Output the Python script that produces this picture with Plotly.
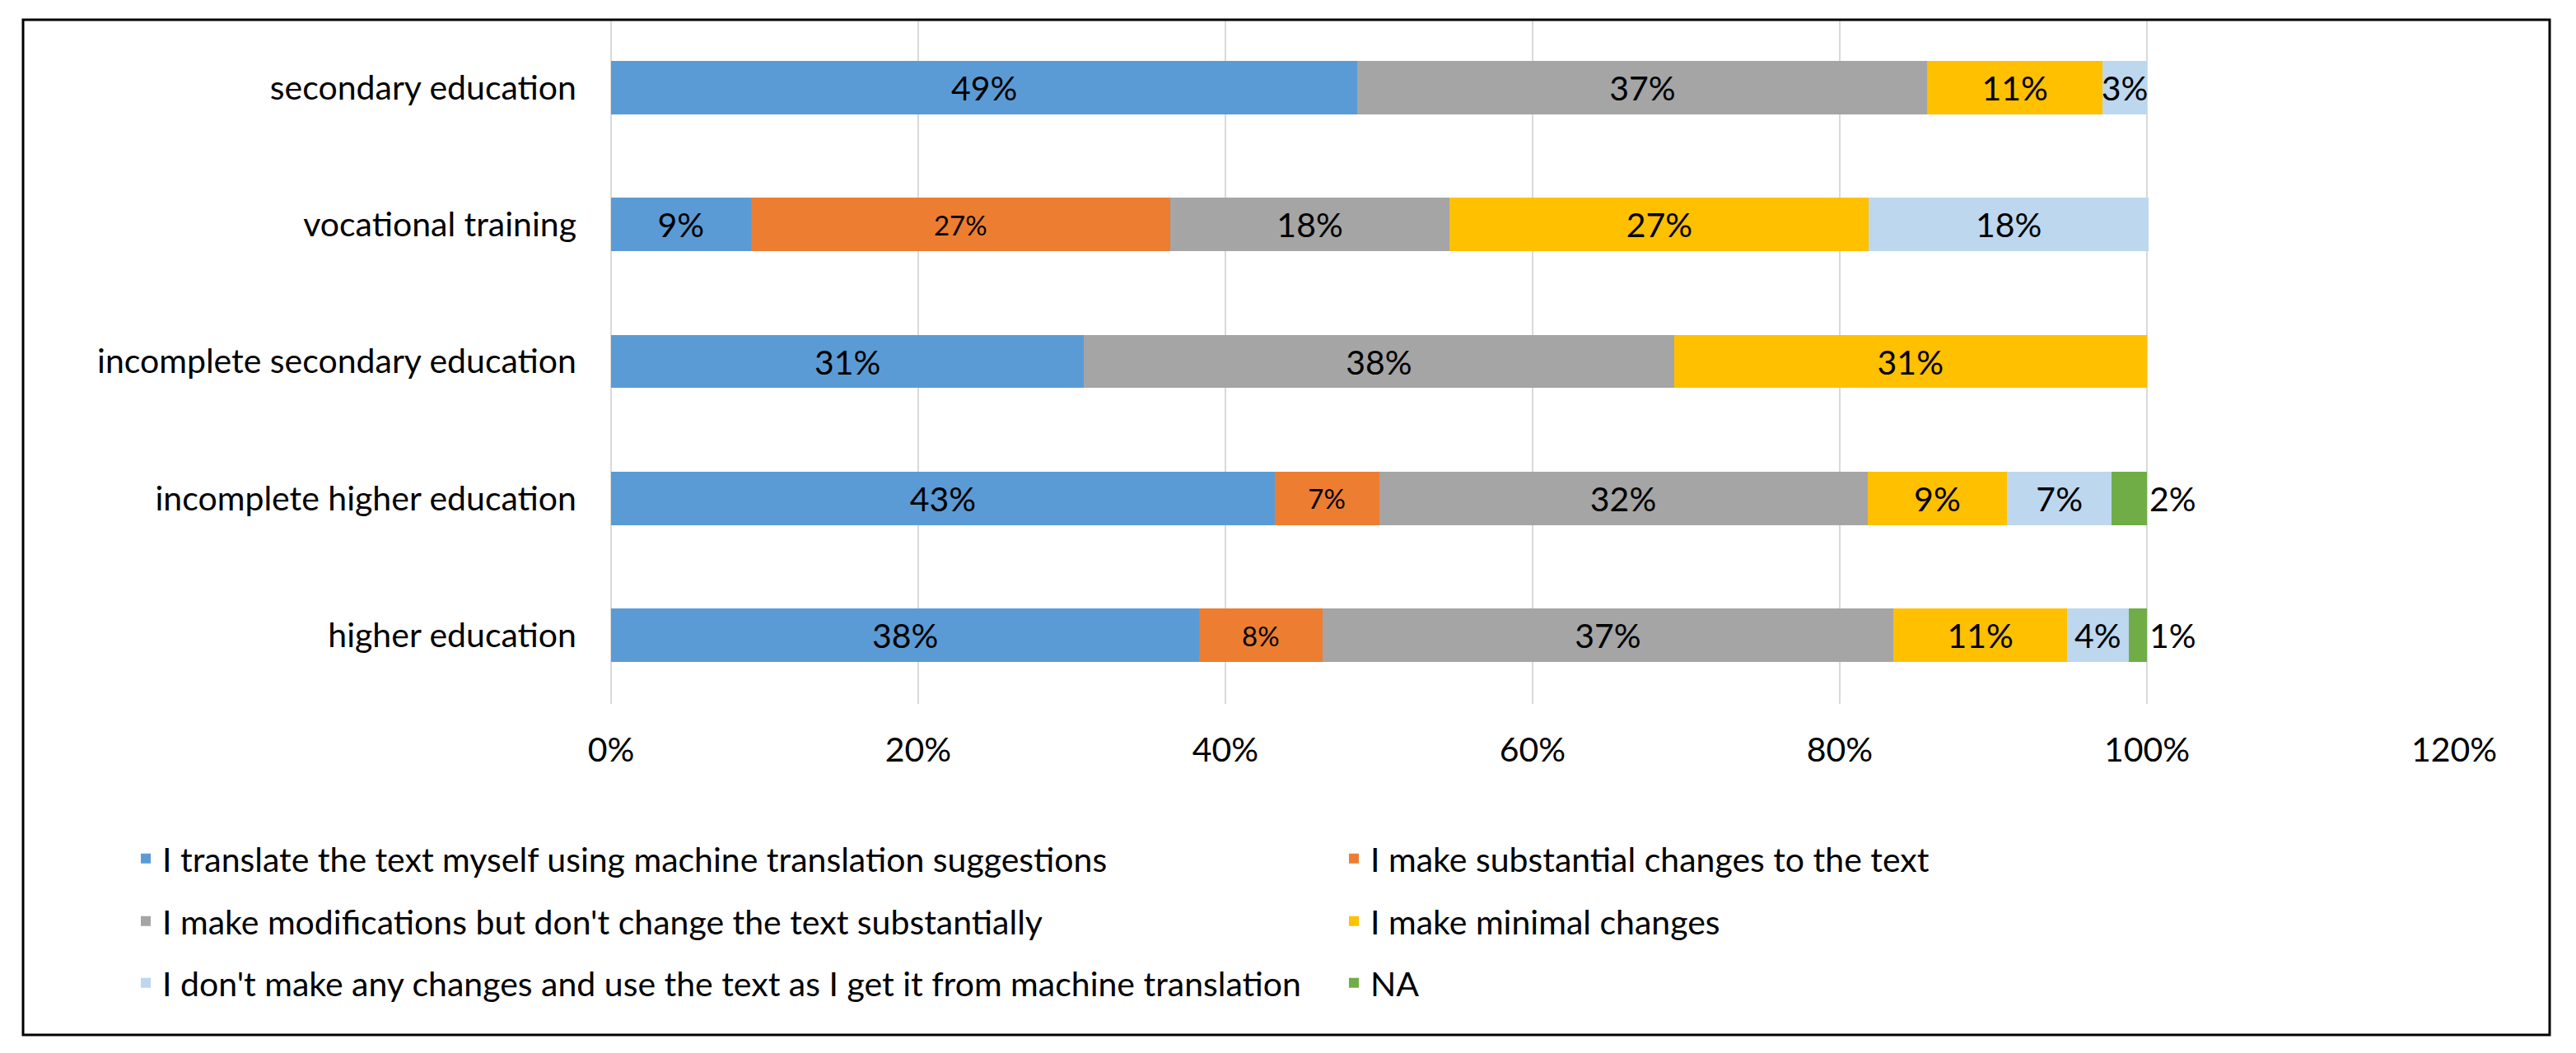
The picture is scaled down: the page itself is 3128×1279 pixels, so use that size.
import plotly.graph_objects as go

# ---- data ----
categories = [
    "secondary education",
    "vocational training",
    "incomplete secondary education",
    "incomplete higher education",
    "higher education",
]
series_names = [
    "I translate the text myself using machine translation suggestions",
    "I make substantial changes to the text",
    "I make modifications but don't change the text substantially",
    "I make minimal changes",
    "I don't make any changes and use the text as I get it from machine translation",
    "NA",
]
translate_myself = [0.486, 0.091, 0.308, 0.432, 0.383]
substantial = [None, 0.273, None, 0.068, 0.080]
modifications = [0.371, 0.182, 0.384, 0.318, 0.372]
minimal = [0.114, 0.273, 0.308, 0.091, 0.113]
no_changes = [0.029, 0.182, None, 0.068, 0.040]
na = [None, None, None, 0.023, 0.012]
x_ticks = [0, 0.2, 0.4, 0.6, 0.8, 1.0, 1.2]

series_values = [translate_myself, substantial, modifications, minimal, no_changes, na]
colors = ["#5B9BD5", "#ED7D31", "#A5A5A5", "#FFC000", "#BDD7EE", "#70AD47"]

# ---- layout geometry (pixels) ----
W, H = 3128, 1279
L, R, T, B = 742, 148, 23, 424
FONT = "Lato, 'Liberation Sans', Arial, sans-serif"
FS = 41

fig = go.Figure()
legend_ids = ["legend", "legend2", "legend3", "legend4", "legend5", "legend6"]
for i, (name, vals, col) in enumerate(zip(series_names, series_values, colors)):
    is_last = i == len(series_names) - 1
    fig.add_trace(go.Bar(
        y=categories,
        x=vals,
        name=name,
        orientation="h",
        marker=dict(color=col, line=dict(width=0)),
        texttemplate="%{x:.0%}",
        textposition="outside" if is_last else "inside",
        insidetextanchor="middle",
        textangle=0,
        constraintext="none",
        cliponaxis=False,
        textfont=dict(family=FONT, size=33 if i == 1 else FS, color="black"),
        hoverinfo="skip",
        legend=legend_ids[i],
    ))

# legend positions (container pixel coords of each entry)
legend_pos = [(157, 1043), (1624, 1043), (157, 1119), (1624, 1119), (157, 1194), (1624, 1194)]
legend_layout = {}
for lid, (px, py) in zip(legend_ids, legend_pos):
    legend_layout[lid] = dict(
        orientation="h",
        xref="container", yref="container",
        x=px / W, y=1 - py / H,
        xanchor="left", yanchor="middle",
        font=dict(family=FONT, size=FS, color="black"),
        bgcolor="rgba(0,0,0,0)",
        borderwidth=0,
    )

fig.update_layout(
    width=W, height=H,
    margin=dict(l=L, r=R, t=T, b=B, autoexpand=False),
    barmode="stack",
    bargap=0.61,
    plot_bgcolor="white",
    paper_bgcolor="white",
    font=dict(family=FONT, size=FS, color="black"),
    showlegend=True,
    **legend_layout,
)
fig.update_xaxes(
    range=[0, 1.2],
    tickvals=x_ticks,
    tickformat=".0%",
    showgrid=True, gridcolor="#D9D9D9", gridwidth=2,
    zeroline=True, zerolinecolor="#D9D9D9", zerolinewidth=2,
    showline=False, ticks="",
    ticklabelstandoff=28,
    tickfont=dict(family=FONT, size=FS, color="black"),
)
fig.update_yaxes(
    autorange="reversed",
    showgrid=False, showline=False, ticks="",
    ticklabelstandoff=41,
    tickfont=dict(family=FONT, size=FS, color="black"),
)

# outer frame (pixel box converted to paper coords)
pw, ph = W - L - R, H - T - B
def px2x(px):
    return (px - L) / pw
def py2y(py):
    return (H - B - py) / ph
fig.add_shape(type="rect", xref="paper", yref="paper",
              x0=px2x(28), x1=px2x(3096), y0=py2y(1257), y1=py2y(24),
              line=dict(color="black", width=3), fillcolor="rgba(0,0,0,0)", layer="above")

fig.write_html("out.html", config={"displayModeBar": False},
               post_script="document.body.style.margin='0px';document.body.style.overflow='hidden';")
